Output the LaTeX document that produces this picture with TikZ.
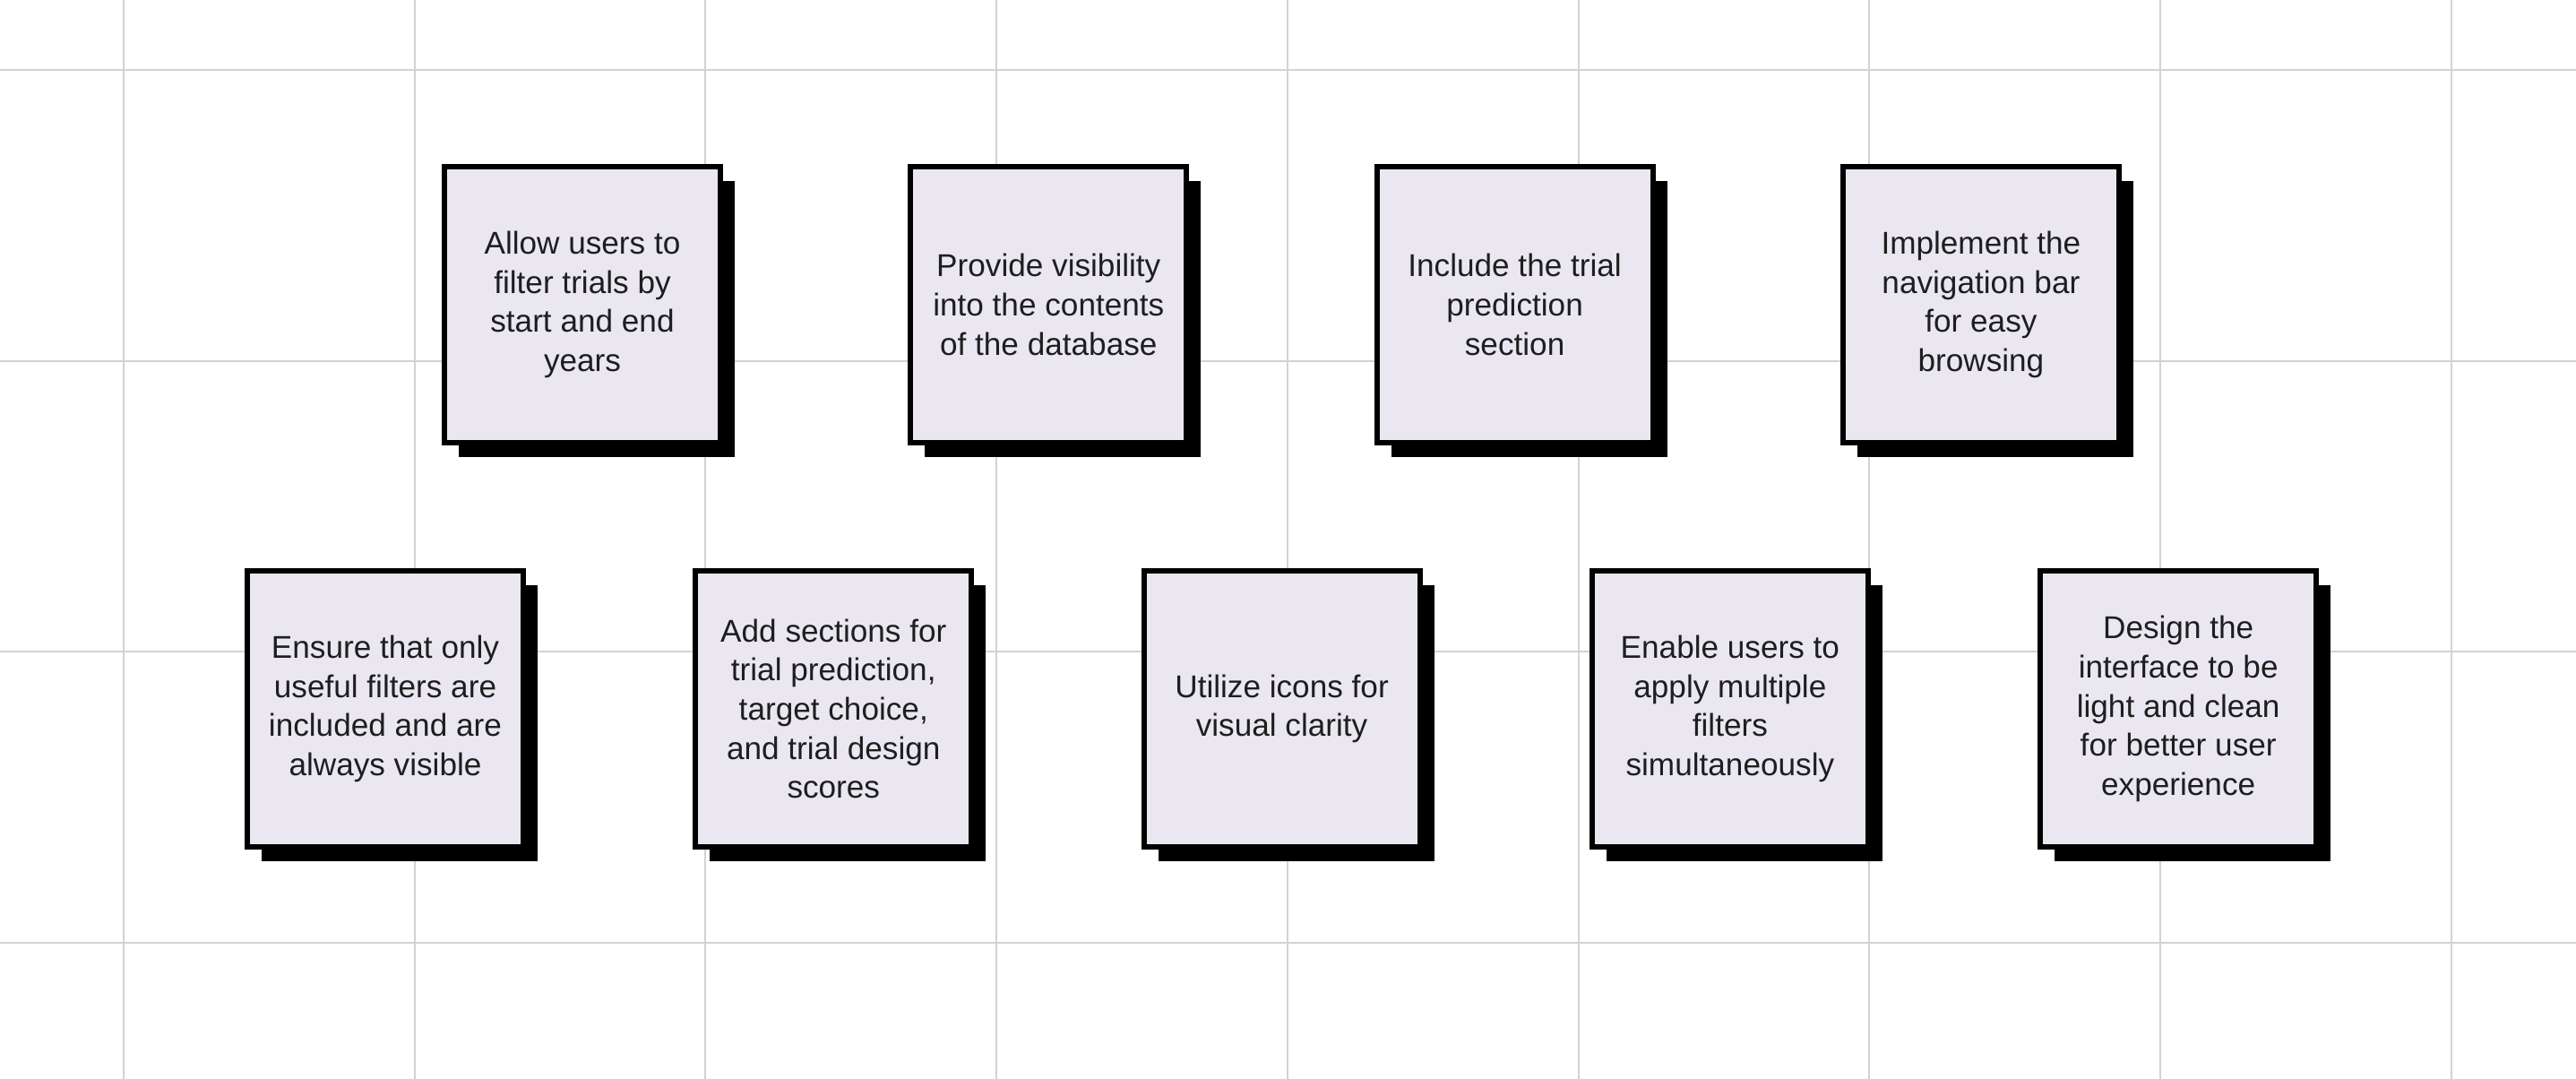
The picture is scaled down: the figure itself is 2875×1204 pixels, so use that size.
\documentclass[tikz,border=0pt]{standalone}
\usepackage{fontspec}
\setmainfont{Liberation Sans}
\usetikzlibrary{positioning,shadows}
\definecolor{cardfill}{HTML}{EAE7F1}
\definecolor{gridgray}{HTML}{D2D2D2}
\definecolor{inkdark}{HTML}{1E1E1E}
\tikzset{
gridline/.style = {draw=gridgray, line width=0.02cm},
card/.style = {draw=black, fill=cardfill, rectangle, align=center, line width=0.06cm, minimum size=3.08cm, inner sep=0pt, text=inkdark, font=\fontsize{10}{12.4}\selectfont, drop shadow={shadow xshift=0.16cm, shadow yshift=-0.16cm, fill=black, opacity=1}}
}

\begin{document}
\begin{tikzpicture}[x=0.01cm, y=-0.01cm]
   \useasboundingbox [fill=white] (0,0) rectangle (2875,1204);
   % background grid
   \foreach \i in {0,...,8}
     \draw [gridline] ({138+324.7*\i},0) -- ({138+324.7*\i},1204);
   \foreach \j in {0,...,3}
     \draw [gridline] (0,{78+324.6*\j}) -- (2875,{78+324.6*\j});
   % top row
   \node [card] (years) at (650,340) {Allow users to\\filter trials by\\start and end\\years};
   \node [card, right=2.06cm of years] (database) {Provide visibility\\into the contents\\of the database};
   \node [card, right=2.06cm of database] (prediction) {Include the trial\\prediction\\section};
   \node [card, right=2.06cm of prediction] (navbar) {Implement the\\navigation bar\\for easy\\browsing};
   % bottom row
   \node [card] (useful) at (430,791) {Ensure that only\\useful filters are\\included and are\\always visible};
   \node [card, right=1.86cm of useful] (sections) {Add sections for\\trial prediction,\\target choice,\\and trial design\\scores};
   \node [card, right=1.86cm of sections] (icons) {Utilize icons for\\visual clarity};
   \node [card, right=1.86cm of icons] (multiple) {Enable users to\\apply multiple\\filters\\simultaneously};
   \node [card, right=1.86cm of multiple] (clean) {Design the\\interface to be\\light and clean\\for better user\\experience};
\end{tikzpicture}
\end{document}
